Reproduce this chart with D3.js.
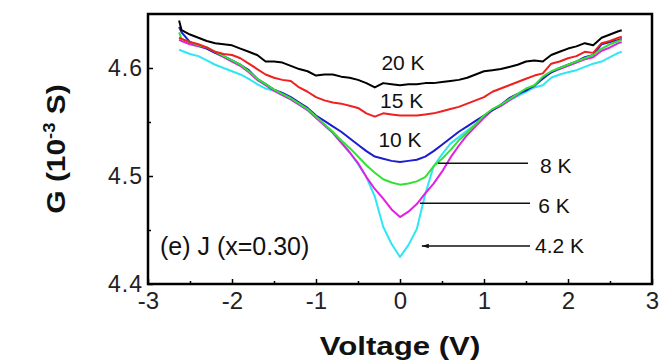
<!DOCTYPE html>
<html>
<head>
<meta charset="utf-8">
<script src="https://cdn.jsdelivr.net/npm/d3@7"></script>
<style>
  html, body { margin: 0; padding: 0; background: #ffffff; }
  svg { display: block; font-family: "Liberation Sans", Arial, Helvetica, sans-serif; }
</style>
</head>
<body>
<svg id="chart" width="660" height="364"></svg>
<script>
// ---------------- data ----------------
const voltage = [-2.63, -2.6, -2.5, -2.4, -2.3, -2.2, -2.1, -2.0, -1.9, -1.8, -1.7, -1.6, -1.5, -1.4, -1.3, -1.2, -1.1, -1.0,
  -0.9, -0.8, -0.7, -0.6, -0.5, -0.4, -0.3, -0.2, -0.1, 0, 0.1, 0.2, 0.3, 0.4, 0.5, 0.6, 0.7, 0.8, 0.9, 1.0,
  1.1, 1.2, 1.3, 1.4, 1.5, 1.6, 1.7, 1.8, 1.9, 2.0, 2.1, 2.2, 2.3, 2.4, 2.5, 2.6, 2.64];

const g20K = [4.644, 4.635, 4.631, 4.628, 4.625, 4.623, 4.622, 4.621, 4.618, 4.615, 4.612, 4.606, 4.606, 4.605, 4.602, 4.599, 4.597, 4.593,
  4.594, 4.594, 4.592, 4.591, 4.589, 4.586, 4.582, 4.586, 4.585, 4.584, 4.585, 4.585, 4.586, 4.586, 4.587, 4.588, 4.589, 4.591, 4.594, 4.597,
  4.598, 4.599, 4.601, 4.603, 4.606, 4.607, 4.606, 4.612, 4.615, 4.618, 4.620, 4.623, 4.621, 4.628, 4.631, 4.634, 4.635];

const g15K = [4.628, 4.627, 4.624, 4.622, 4.619, 4.615, 4.613, 4.612, 4.609, 4.604, 4.599, 4.594, 4.591, 4.589, 4.588, 4.582, 4.578, 4.573,
  4.570, 4.568, 4.567, 4.565, 4.563, 4.558, 4.555, 4.558, 4.557, 4.556, 4.556, 4.556, 4.557, 4.558, 4.560, 4.562, 4.564, 4.567, 4.570, 4.573,
  4.578, 4.581, 4.584, 4.587, 4.590, 4.593, 4.595, 4.604, 4.606, 4.609, 4.611, 4.615, 4.614, 4.623, 4.625, 4.628, 4.629];

const g10K = [4.638, 4.633, 4.624, 4.621, 4.618, 4.614, 4.611, 4.607, 4.603, 4.598, 4.590, 4.585, 4.580, 4.577, 4.573, 4.568, 4.563, 4.556,
  4.551, 4.546, 4.541, 4.535, 4.529, 4.523, 4.518, 4.516, 4.514, 4.513, 4.514, 4.515, 4.518, 4.523, 4.529, 4.535, 4.541, 4.546, 4.551, 4.556,
  4.561, 4.566, 4.572, 4.576, 4.579, 4.584, 4.590, 4.596, 4.600, 4.603, 4.606, 4.610, 4.612, 4.622, 4.624, 4.626, 4.627];

const g8K = [4.633, 4.627, 4.624, 4.621, 4.619, 4.615, 4.611, 4.607, 4.603, 4.597, 4.590, 4.585, 4.580, 4.576, 4.572, 4.567, 4.562, 4.555,
  4.548, 4.541, 4.533, 4.526, 4.518, 4.510, 4.503, 4.497, 4.494, 4.492, 4.493, 4.495, 4.499, 4.509, 4.516, 4.524, 4.533, 4.540, 4.548, 4.556,
  4.562, 4.566, 4.571, 4.576, 4.581, 4.584, 4.592, 4.597, 4.600, 4.603, 4.606, 4.609, 4.612, 4.618, 4.622, 4.625, 4.626];

const g6K = [4.626, 4.625, 4.622, 4.620, 4.618, 4.614, 4.610, 4.606, 4.602, 4.596, 4.589, 4.584, 4.579, 4.575, 4.571, 4.566, 4.561, 4.554,
  4.547, 4.540, 4.531, 4.522, 4.512, 4.499, 4.488, 4.479, 4.469, 4.462, 4.467, 4.474, 4.484, 4.493, 4.504, 4.517, 4.528, 4.538, 4.546, 4.554,
  4.561, 4.565, 4.570, 4.575, 4.580, 4.583, 4.591, 4.596, 4.599, 4.602, 4.605, 4.608, 4.610, 4.616, 4.619, 4.623, 4.624];

const g4K = [4.617, 4.616, 4.613, 4.611, 4.607, 4.603, 4.600, 4.597, 4.594, 4.590, 4.585, 4.581, 4.579, 4.575, 4.571, 4.566, 4.561, 4.554,
  4.547, 4.540, 4.531, 4.522, 4.511, 4.499, 4.481, 4.453, 4.437, 4.425, 4.436, 4.451, 4.483, 4.509, 4.520, 4.530, 4.536, 4.542, 4.548, 4.555,
  4.561, 4.565, 4.570, 4.574, 4.578, 4.582, 4.584, 4.591, 4.594, 4.596, 4.598, 4.601, 4.604, 4.606, 4.610, 4.614, 4.615];

const seriesNames = ["4.2 K", "6 K", "10 K", "8 K", "15 K", "20 K"];
const seriesValues = [g4K, g6K, g10K, g8K, g15K, g20K];
const seriesColors = ["#2fe6f2", "#e21fe2", "#1c1cd0", "#34e034", "#ee2020", "#000000"];

const xTicks = [-3, -2, -1, 0, 1, 2, 3];
const xMinorTicks = [-2.5, -1.5, -0.5, 0.5, 1.5, 2.5];
const yTicks = [4.4, 4.5, 4.6];
const yMinorTicks = [4.45, 4.55];

// ---------------- layout ----------------
const W = 660, H = 364;
const margin = { left: 148, right: 8, top: 14, bottom: 80 };
const svg = d3.select("#chart");

const x = d3.scaleLinear().domain([-3, 3]).range([margin.left, W - margin.right]);
const y = d3.scaleLinear().domain([4.4, 4.65]).range([H - margin.bottom, margin.top]);

// curves
const line = d3.line().x(d => x(d[0])).y(d => y(d[1]));
seriesValues.forEach((vals, i) => {
  svg.append("path")
    .datum(voltage.map((v, j) => [v, vals[j]]))
    .attr("d", line)
    .attr("fill", "none")
    .attr("stroke", seriesColors[i])
    .attr("stroke-width", 2)
    .attr("stroke-linejoin", "round");
});

// axes
const xAxis = svg.append("g").attr("transform", `translate(0,${y(4.4)})`)
  .call(d3.axisBottom(x).tickValues(xTicks).tickFormat(d3.format("d")).tickSizeInner(-5).tickSizeOuter(0).tickPadding(8));
svg.append("g").attr("transform", `translate(0,${y(4.4)})`)
  .call(d3.axisBottom(x).tickValues(xMinorTicks).tickFormat("").tickSizeInner(-3).tickSizeOuter(0));
const yAxis = svg.append("g").attr("transform", `translate(${x(-3)},0)`)
  .call(d3.axisLeft(y).tickValues(yTicks).tickFormat(d3.format(".1f")).tickSizeInner(-5).tickSizeOuter(0).tickPadding(5));
svg.append("g").attr("transform", `translate(${x(-3)},0)`)
  .call(d3.axisLeft(y).tickValues(yMinorTicks).tickFormat("").tickSizeInner(-3).tickSizeOuter(0));

svg.selectAll(".domain").remove();
svg.selectAll(".tick line").attr("stroke", "#000").attr("stroke-width", 1.5);
xAxis.selectAll("text").attr("font-size", 24).attr("fill", "#222")
  .attr("font-family", "'Liberation Sans', Arial, sans-serif").text(d => d < 0 ? "-" + Math.abs(d) : d);
yAxis.selectAll("text").attr("font-size", 23).attr("fill", "#222")
  .attr("font-family", "'Liberation Sans', Arial, sans-serif").attr("letter-spacing", 1);

// frame
svg.append("rect")
  .attr("x", x(-3)).attr("y", y(4.65))
  .attr("width", x(3) - x(-3)).attr("height", y(4.4) - y(4.65))
  .attr("fill", "none").attr("stroke", "#000").attr("stroke-width", 2.5);

// axis titles
svg.append("text")
  .attr("transform", `translate(${(x(-3) + x(3)) / 2},355) scale(1.2,1)`)
  .attr("text-anchor", "middle").attr("font-weight", "bold").attr("font-size", 26).attr("fill", "#111")
  .text("Voltage (V)");

const yt = svg.append("text")
  .attr("transform", `translate(65,${(y(4.4) + y(4.65)) / 2}) rotate(-90) scale(1.15,1)`)
  .attr("text-anchor", "middle").attr("font-weight", "bold").attr("font-size", 26).attr("fill", "#111");
yt.append("tspan").text("G (10");
yt.append("tspan").attr("dy", -10).attr("font-size", 16).text("-3");
yt.append("tspan").attr("dy", 10).text(" S)");

// curve labels
const ann = svg.append("g").attr("font-size", 21).attr("fill", "#111");
ann.append("text").attr("x", x(0.036)).attr("y", y(4.5981)).attr("text-anchor", "middle").text(seriesNames[5]);
ann.append("text").attr("x", x(0.02)).attr("y", y(4.563)).attr("text-anchor", "middle").text(seriesNames[4]);
ann.append("text").attr("x", x(0.0)).attr("y", y(4.5273)).attr("text-anchor", "middle").text(seriesNames[2]);
ann.append("text").attr("x", x(1.667)).attr("y", y(4.5028)).text(seriesNames[3]);
ann.append("text").attr("x", x(1.647)).attr("y", y(4.4657)).text(seriesNames[1]);
ann.append("text").attr("x", x(1.607)).attr("y", y(4.4287)).text(seriesNames[0]);

// leader lines
const leaders = [[0.452, 1.524, 4.5118], [0.238, 1.548, 4.4747], [0.26, 1.548, 4.4352]];
leaders.forEach(l => {
  svg.append("line").attr("x1", x(l[0])).attr("x2", x(l[1])).attr("y1", y(l[2])).attr("y2", y(l[2]))
    .attr("stroke", "#111").attr("stroke-width", 1.5);
});
// small arrow head on the 4.2 K leader
const ah = leaders[2];
svg.append("path")
  .attr("d", `M${x(ah[0])},${y(ah[2])} l7,-2.2 l0,4.4 z`)
  .attr("fill", "#111");

// panel label
svg.append("text").attr("x", x(-2.857)).attr("y", y(4.4269))
  .attr("font-size", 25).attr("fill", "#111").text("(e) J (x=0.30)");
</script>
</body>
</html>
